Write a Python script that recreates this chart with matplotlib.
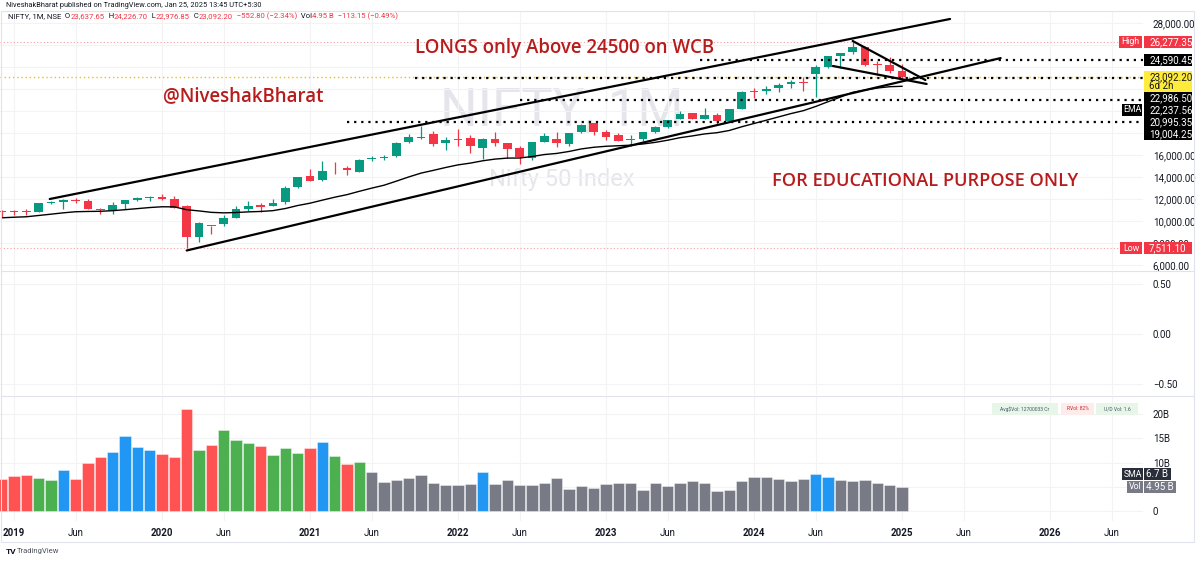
import matplotlib
matplotlib.use("Agg")
import matplotlib.pyplot as plt
from matplotlib.patches import Rectangle

plt.rcParams["font.family"] = ["Roboto", "DejaVu Sans"]

W, H = 1200, 563

# monthly NIFTY candles, Dec 2018 .. Jan 2025 (month index: Jan 2019 = 0)
months = list(range(-1, 73))
opens = [10930, 10881, 10851, 10842, 11665, 11726, 11953, 11839, 11101, 10961, 11515, 11886,
         12137, 12202, 12000, 11388, 8585, 9590, 9726, 10323, 11057, 11464, 11364, 11697,
         13062, 14104, 13758, 14702, 14798, 14481, 15630, 15755, 15874, 17186, 17532, 17910,
         17104, 17387, 17529, 16593, 17437, 17070, 16594, 15703, 17185, 17485, 16968, 18130,
         18871, 18131, 17811, 17360, 17428, 18124, 18579, 19246, 19784, 19266, 19622, 19064,
         20195, 21727, 21781, 22049, 22455, 22619, 23338, 24011, 25030, 25333, 25788, 24304,
         24140, 23637.65]
highs = [10985, 10987, 11118, 11630, 11856, 12041, 12103, 11981, 11181, 11695, 11945, 12159,
         12294, 12430, 12247, 11434, 9890, 9598, 10554, 11341, 11794, 11618, 12025, 13146,
         14025, 14754, 15432, 15337, 15044, 15607, 15916, 15962, 17154, 17948, 18604, 18210,
         17640, 18351, 17794, 17559, 18115, 17132, 16794, 17172, 17992, 18096, 18022, 18816,
         18888, 18251, 17972, 17799, 18089, 18662, 19201, 19992, 19796, 20222, 19850, 20159,
         21801, 22124, 22297, 22526, 22784, 23111, 24174, 24999, 25268, 26277.35, 25908, 24538,
         24858, 24226.70]
lows = [10333, 10584, 10586, 10817, 11550, 11108, 11626, 11107, 10637, 10671, 11090, 11802,
        11833, 11929, 11175, 7511.10, 8056, 8807, 9544, 10300, 10883, 10790, 11347, 11557,
        12963, 13596, 13662, 14264, 14152, 14417, 15451, 15513, 15835, 17055, 17452, 16782,
        16410, 16837, 16203, 15671, 16824, 15736, 15183, 15512, 17154, 16748, 16855, 17959,
        17774, 17405, 17255, 16828, 17312, 18042, 18465, 19234, 19223, 19255, 18838, 18974,
        20184, 21138, 21530, 21711, 22054, 21822, 21282, 23893, 23894, 25204, 24074, 23263,
        23461, 22976.85]
closes = [10863, 10831, 10793, 11624, 11748, 11923, 11789, 11118, 11023, 11474, 11877, 12056,
          12168, 11962, 11202, 8598, 9860, 9580, 10302, 11073, 11388, 11248, 11642, 12969,
          13982, 13635, 14529, 14691, 14631, 15583, 15722, 15763, 17132, 17618, 17672, 16983,
          17354, 17340, 16794, 17465, 17103, 16585, 15780, 17158, 17759, 17094, 18012, 18758,
          18105, 17662, 17304, 17360, 18065, 18534, 19189, 19754, 19254, 19638, 19080, 20133,
          21731, 21726, 21983, 22327, 22605, 22531, 24011, 24951, 25236, 25811, 24205, 24131,
          23645, 23092.20]
ema = [10299, 10350, 10392, 10509, 10627, 10750, 10849, 10875, 10889, 10945, 11034, 11131,
       11230, 11300, 11291, 11034, 10922, 10794, 10747, 10778, 10836, 10875, 10948, 11141,
       11412, 11624, 11900, 12166, 12401, 12704, 12991, 13255, 13624, 14005, 14354, 14604,
       14866, 15102, 15263, 15473, 15628, 15719, 15725, 15861, 16042, 16142, 16320, 16552,
       16700, 16792, 16841, 16890, 17002, 17148, 17342, 17572, 17732, 17914, 18025, 18226,
       18560, 18861, 19158, 19460, 19760, 20024, 20404, 20837, 21256, 21690, 21900, 22080,
       22200, 22237.56]
volume_b = [6.7, 7.3, 7.4, 6.8, 6.4, 8.5, 6.65, 9.9, 11.1, 12.1, 15.5, 13.1,
            12.5, 11.8, 11.1, 21.1, 12.6, 13.6, 16.7, 14.6, 14.0, 13.4, 11.5, 13.0,
            11.9, 13.0, 14.2, 11.3, 9.6, 10.2, 8.1, 5.9, 6.4, 6.9, 7.5, 5.8,
            5.4, 5.4, 5.6, 8.0, 5.6, 6.3, 5.4, 5.4, 5.8, 6.8, 4.5, 5.2,
            4.7, 5.6, 5.7, 5.8, 4.4, 5.7, 5.1, 5.7, 6.1, 5.8, 4.2, 4.4,
            6.1, 7.0, 7.0, 6.7, 6.2, 6.65, 7.7, 7.1, 6.3, 6.2, 6.3, 5.8,
            5.4, 4.95]
vol_kind = ("rrrggbrrrbbbbrrrgrgggrgggrbgrg" "kkkkkkkkkb" "kkkkkkkkkkkkkkkkkkkkkkkkkk"
            "bbkkkkkk")
vol_sma = 6.7

# drawn levels / lines (month index, price)
levels = [24590.45, 22986.50, 20995.35, 19004.25]
level_start = [55.6, 32.5, 41.0, 27.0]
trend_lines = [((2.9, 12005), (75.9, 28350)),
               ((14.0, 7330), (80.0, 24800)),
               ((68.0, 26350), (73.9, 22810)),
               ((66.4, 24080), (74.0, 22450))]

year_ticks = [0, 12, 24, 36, 48, 60, 72, 84]
year_labels = ["2019", "2020", "2021", "2022", "2023", "2024", "2025", "2026"]
jun_ticks = [5, 17, 29, 41, 53, 65, 77, 89]

GREEN, RED = "#089981", "#f23645"
VCOL = {"r": "#ff5252", "g": "#4caf50", "b": "#2196f3", "k": "#787b86"}
TXT = "#131722"
GRID = "#f3f3f6"
ANN = "#b71c1c"

X0, DX = 14.0, 12.333
XL = ((0 - X0) / DX, (1143 - X0) / DX)

fig = plt.figure(figsize=(W / 100, H / 100), dpi=100)


def pane(top, bottom, left=0, right=1143):
    a = fig.add_axes([left / W, 1 - bottom / H, (right - left) / W, (bottom - top) / H])
    a.set_xlim(*XL)
    for s in a.spines.values():
        s.set_visible(False)
    a.yaxis.tick_right()
    a.tick_params(axis="y", length=0, pad=7, labelsize=7, labelcolor=TXT)
    a.tick_params(axis="x", length=0)
    a.set_xticks(year_ticks + jun_ticks)
    a.set_xticklabels([])
    a.grid(True, color=GRID, lw=0.8)
    a.set_axisbelow(True)
    return a


ax_p = pane(12, 270)
ax_m = pane(271, 395)
ax_v = pane(396, 521)

# price pane
ax_p.set_ylim(5559, 28983)
pt = list(range(6000, 28001, 2000))
ax_p.set_yticks(pt)

ax_p.text(0.4917, 0.616, "NIFTY, 1M", transform=ax_p.transAxes, ha="center", va="center",
          fontsize=38, color="#e5e5eb", zorder=0)
ax_p.text(0.4917, 0.349, "Nifty 50 Index", transform=ax_p.transAxes, ha="center", va="center",
          fontsize=17, color="#e5e5eb", zorder=0)

for m, o, h, l, c in zip(months, opens, highs, lows, closes):
    col = GREEN if c >= o else RED
    ax_p.vlines(m, l, h, color=col, lw=0.9, zorder=3)
    ax_p.bar(m, max(abs(c - o), 80), bottom=min(o, c), width=0.7, color=col, zorder=3)

ax_p.plot(months, ema, color="black", lw=1.0, zorder=4)

ax_p.axhline(max(highs), color="#f7a1a8", lw=0.8, ls=(0, (1, 2)), zorder=2)
ax_p.axhline(min(lows), color="#f7a1a8", lw=0.8, ls=(0, (1, 2)), zorder=2)
ax_p.axhline(closes[-1], color="#f2c200", lw=1.0, ls=(0, (1, 2)), zorder=2)
for lv, st in zip(levels, level_start):
    ax_p.hlines(lv, st, XL[1], color="black", lw=1.6, ls=(0, (1, 2.2)), zorder=5)
for (xa, ya), (xb, yb) in trend_lines:
    ax_p.plot([xa, xb], [ya, yb], color="black", lw=1.6, solid_capstyle="round", zorder=5)

ann = dict(transform=ax_p.transAxes, ha="center", va="center", color=ANN,
           family="Open Sans", weight="semibold", zorder=6)
ax_p.text(0.4943, 0.860, "LONGS only Above 24500 on WCB", fontsize=13.4, **ann)
ax_p.text(0.2126, 0.674, "@NiveshakBharat", fontsize=13.4, **ann)
ax_p.text(0.809, 0.345, "FOR EDUCATIONAL PURPOSE ONLY", fontsize=13.1, **ann)

# middle (empty indicator) pane
ax_m.set_ylim(-0.61, 0.63)
ax_m.set_yticks([-0.5, 0, 0.5])
ax_m.set_yticklabels(["\u22120.50", "0.00", "0.50"])

# volume pane
ax_v.set_ylim(-2.06, 23.71)
vt = [0, 5, 10, 15, 20]
ax_v.set_yticks(vt)
ax_v.bar(months, volume_b, width=0.92, color=[VCOL[k] for k in vol_kind],
         edgecolor=(1, 1, 1, 0.45), linewidth=0.6, zorder=3)
ax_v.set_xticks(year_ticks + jun_ticks)
ax_v.set_xticklabels(year_labels + ["Jun"] * len(jun_ticks))
ax_v.tick_params(axis="x", pad=5, labelsize=7, labelcolor=TXT)
for lab in ax_v.get_xticklabels()[:len(year_ticks)]:
    lab.set_fontweight("bold")

# overlay in pixel coordinates
ui = fig.add_axes([0, 0, 1, 1], zorder=10)
ui.set_xlim(0, W)
ui.set_ylim(H, 0)
ui.axis("off")
ui.patch.set_alpha(0)


def py(a, v):
    return H - a.transData.transform((0, v))[1]


ui.add_patch(Rectangle((0.5, 11), 1193, 530.5, fill=False, ec="#e0e3eb", lw=0.8))
ui.plot([0.5, 1193.5], [270.5, 270.5], color="#e0e3eb", lw=0.8)
ui.plot([0.5, 1193.5], [395.5, 395.5], color="#e0e3eb", lw=0.8)

ui.text(6, 5.5, "NiveshakBharat published on TradingView.com, Jan 25, 2025 13:45 UTC+5:30",
        fontsize=5.3, color=TXT, va="center")

rend = fig.canvas.get_renderer()


def segments(x, y, parts, size=5.6):
    for s, c in parts:
        t = ui.text(x, y, s, color=c, fontsize=size, va="center")
        x += t.get_window_extent(renderer=rend).width


chg = closes[-1] - closes[-2]
segments(8, 16.5, [
    ("NIFTY, 1M, NSE", TXT), ("  O", TXT), (f"{opens[-1]:,.2f}", RED),
    ("  H", TXT), (f"{highs[-1]:,.2f}", RED), ("  L", TXT), (f"{lows[-1]:,.2f}", RED),
    ("  C", TXT), (f"{closes[-1]:,.2f}", RED),
    (f"  \u2212{abs(chg):,.2f} (\u2212{abs(chg) / closes[-2] * 100:.2f}%)", RED),
    ("  Vol", TXT), (f"{volume_b[-1]:.2f} B", RED), ("  \u2212113.15 (\u22120.49%)", RED)])

covered = []


def box(x0, x1, yc, h, fc, text, tc, size=7, ha="left"):
    ui.add_patch(Rectangle((x0, yc - h / 2), x1 - x0, h, fc=fc, ec="none"))
    tx = x0 + 5 if ha == "left" else (x0 + x1) / 2
    ui.text(tx, yc, text, color=tc, fontsize=size, ha=ha, va="center")


# high / low tags
yh = py(ax_p, max(highs))
box(1119, 1142, yh, 12, RED, "High", "white", size=6.3, ha="center")
box(1144, 1192, yh, 12, RED, f"{max(highs):,.2f}", "white")
covered.append((yh - 6, yh + 6))
yl = py(ax_p, min(lows))
box(1120, 1142, yl, 12, RED, "Low", "white", size=6.3, ha="center")
box(1144, 1192, yl, 12, RED, f"{min(lows):,.2f}", "white")

# stacked price-scale tags
tags = [(levels[0], "k"), (closes[-1], "y"), (levels[1], "k"), (ema[-1], "e"),
        (levels[2], "k"), (levels[3], "k")]
cursor = -1e9
for val, kind in tags:
    hgt = 21 if kind == "y" else 12
    top = max(py(ax_p, val) - 6, cursor)
    if kind == "y":
        ui.add_patch(Rectangle((1144, top), 48, hgt, fc="#ffeb3b", ec="none"))
        ui.text(1149, top + 6, f"{val:,.2f}", color=TXT, fontsize=7, va="center")
        ui.text(1149, top + 15.5, "6d 2h", color=TXT, fontsize=7, va="center")
    else:
        box(1144, 1192, top + 6, 12, "black", f"{val:,.2f}", "white")
        if kind == "e":
            box(1122, 1142, top + 6, 12, "black", "EMA", "white", size=6.3, ha="center")
    covered.append((top, top + hgt))
    cursor = top + hgt


def visible(a, v):
    y = py(a, v)
    return not any(y + 4 > t and y - 4 < b for t, b in covered)


ax_p.set_yticklabels([f"{v:,.2f}" if visible(ax_p, v) else "" for v in pt])

# volume tags
yv = py(ax_v, volume_b[-1])
box(1127, 1143, yv, 12, "#787b86", "Vol", "white", size=6.3, ha="center")
box(1144, 1176, yv, 12, "#787b86", f"{volume_b[-1]:.2f} B", "white", ha="center")
box(1122, 1143, yv - 12.5, 12, "#2a2e39", "SMA", "white", size=6.3, ha="center")
box(1144, 1171, yv - 12.5, 12, "#2a2e39", f"{vol_sma:.1f} B", "white", ha="center")
covered.append((yv - 18.5, yv + 6))
ax_v.set_yticklabels([(f"{v}B" if v else "0") if visible(ax_v, v) else "" for v in vt])

# volume info chips
box(992, 1058, 409, 12, "#e8f5e9", "Avg\\$Vol: 12700033 Cr", "#455a64", size=3.6, ha="center")
box(1061, 1094, 409, 12, "#fdecea", "RVol: 82%", "#c62828", size=3.6, ha="center")
box(1096, 1138, 409, 12, "#e8f5e9", "U/D Vol: 1.6", "#455a64", size=3.6, ha="center")

ui.text(6, 551, "TV", fontsize=6, weight="bold", color=TXT, va="center")
ui.text(17, 551, "TradingView", fontsize=5.5, color="#50535e", va="center")

fig.savefig("out.png", dpi=100)
